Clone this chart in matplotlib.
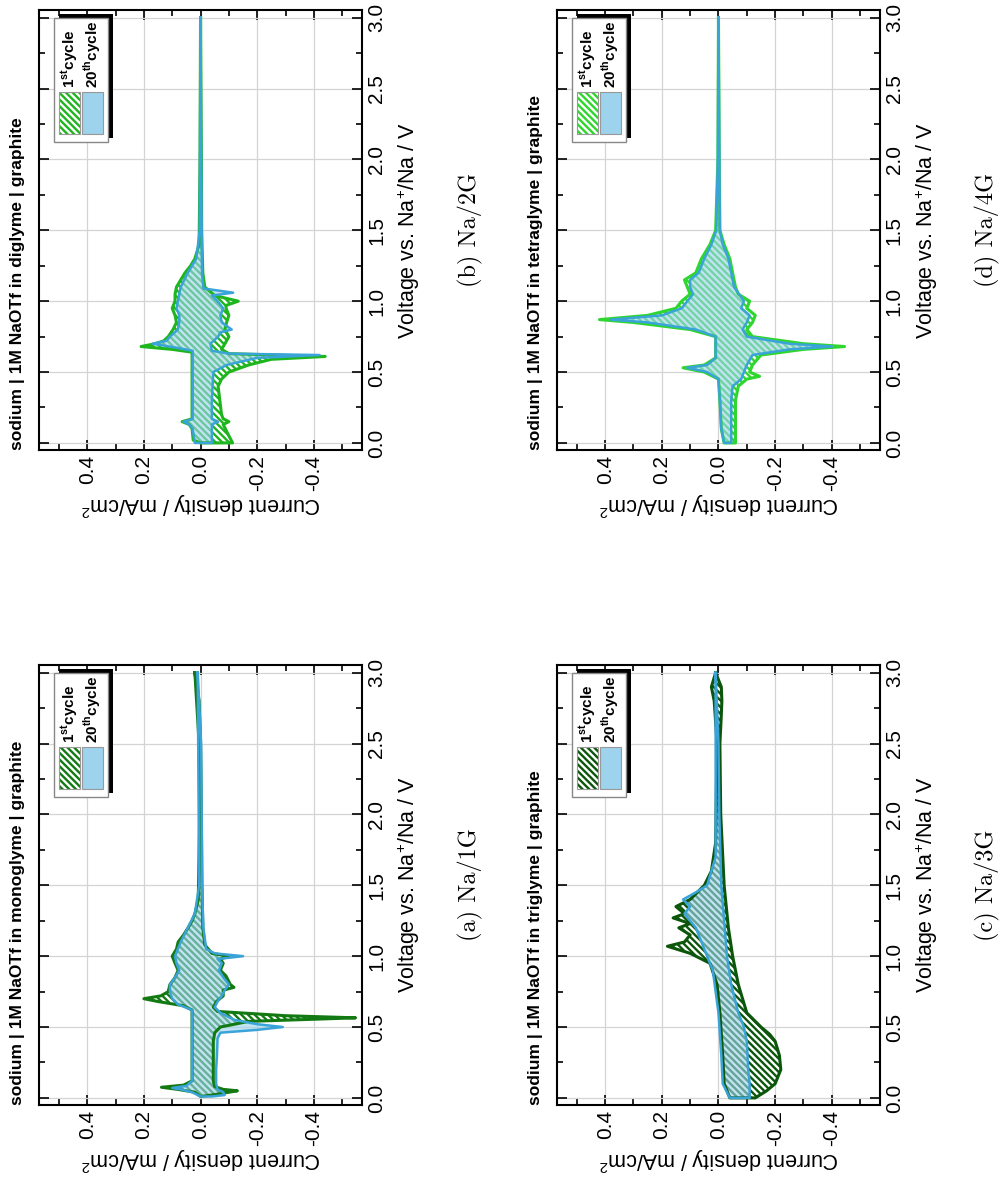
"""Cyclic voltammograms of Na/graphite cells in glyme electrolytes (page rotated 90 deg)."""
import matplotlib
matplotlib.use("Agg")
import matplotlib.pyplot as plt
from matplotlib.patches import Rectangle
from matplotlib.ticker import MultipleLocator

plt.rcParams["font.family"] = ["Liberation Sans", "DejaVu Sans"]
plt.rcParams["axes.unicode_minus"] = False
plt.rcParams["mathtext.fontset"] = "custom"
plt.rcParams["mathtext.rm"] = "Liberation Sans"
plt.rcParams["mathtext.bf"] = "Liberation Sans:bold"
plt.rcParams["hatch.linewidth"] = 1.7

C_BLUE = "#3aa3d8"
C_BLUE_FILL = "#9dd3ec"
C_GRID = "#d4d4d4"
HATCH = "\\\\\\\\\\"

# ---- data: closed CV loops, voltage (V) and current density (mA/cm2) ----
# cathodic scan 3.0 -> 0.0 V, then anodic scan 0.0 -> 3.0 V
V_A1 = [3.00, 2.80, 2.50, 2.00, 1.50, 1.20, 1.08, 1.02, 1.00, 0.98, 0.95, 0.90, 0.86, 0.80, 0.78,
        0.76, 0.72, 0.68, 0.64, 0.61, 0.58, 0.565, 0.555, 0.54, 0.50, 0.46, 0.40, 0.30, 0.20, 0.12,
        0.08, 0.06, 0.05, 0.04, 0.02,
        0.01, 0.04, 0.06, 0.075, 0.09, 0.12, 0.30, 0.50, 0.62, 0.65, 0.68, 0.70, 0.72, 0.75, 0.80,
        0.85, 0.90, 0.95, 1.00, 1.05, 1.10, 1.15, 1.20, 1.25, 1.30, 1.40, 2.00, 2.50, 3.00]
I_A1 = [0.020, 0.005, 0.000, -0.003, -0.005, -0.008, -0.015, -0.040, -0.100, -0.070, -0.080,
        -0.070, -0.090, -0.105, -0.118, -0.080, -0.080, -0.056, -0.045, -0.060, -0.300, -0.547,
        -0.400, -0.170, -0.070, -0.050, -0.045, -0.045, -0.045, -0.045, -0.050, -0.080, -0.130,
        -0.100, -0.040,
        0.000, 0.020, 0.080, 0.138, 0.060, 0.030, 0.030, 0.030, 0.030, 0.060, 0.150, 0.200, 0.140,
        0.114, 0.108, 0.090, 0.079, 0.090, 0.100, 0.085, 0.079, 0.060, 0.044, 0.030, 0.020, 0.008,
        0.003, 0.005, 0.020]
V_A20 = [3.00, 2.50, 2.00, 1.50, 1.20, 1.05, 1.02, 1.00, 0.98, 0.95, 0.90, 0.85, 0.80, 0.76, 0.72,
         0.68, 0.64, 0.60, 0.55, 0.52, 0.50, 0.48, 0.46, 0.42, 0.30, 0.20, 0.10, 0.06, 0.04, 0.02,
         0.01,
         0.01, 0.04, 0.06, 0.07, 0.085, 0.12, 0.40, 0.62, 0.66, 0.70, 0.75, 0.80, 0.85, 0.90, 0.95,
         1.00, 1.05, 1.10, 1.20, 1.30, 1.50, 3.00]
I_A20 = [0.010, -0.002, -0.004, -0.005, -0.010, -0.020, -0.050, -0.150, -0.060, -0.075, -0.065,
         -0.080, -0.100, -0.085, -0.075, -0.060, -0.050, -0.070, -0.120, -0.200, -0.290, -0.200,
         -0.070, -0.060, -0.058, -0.055, -0.055, -0.060, -0.080, -0.085, -0.040,
         0.000, 0.030, 0.070, 0.100, 0.050, 0.030, 0.030, 0.030, 0.080, 0.100, 0.108, 0.108, 0.090,
         0.075, 0.085, 0.090, 0.080, 0.070, 0.045, 0.020, 0.005, 0.010]

V_B1 = [3.00, 2.00, 1.50, 1.20, 1.10, 1.04, 1.00, 0.97, 0.95, 0.90, 0.85, 0.80, 0.75, 0.70, 0.66,
        0.63, 0.61, 0.59, 0.55, 0.50, 0.45, 0.40, 0.30, 0.20, 0.17, 0.15, 0.13, 0.05, 0.00,
        0.00, 0.02, 0.10, 0.13, 0.15, 0.17, 0.40, 0.64, 0.66, 0.68, 0.70, 0.72, 0.75, 0.80, 0.85,
        0.90, 0.95, 1.00, 1.05, 1.10, 1.15, 1.20, 1.25, 1.30, 1.40, 2.00, 3.00]
I_B1 = [0.000, -0.003, -0.004, -0.008, -0.015, -0.050, -0.133, -0.090, -0.090, -0.100, -0.092,
        -0.086, -0.100, -0.086, -0.074, -0.100, -0.440, -0.250, -0.170, -0.100, -0.074, -0.062,
        -0.068, -0.074, -0.080, -0.100, -0.080, -0.100, -0.113,
        0.000, 0.026, 0.030, 0.040, 0.065, 0.030, 0.030, 0.030, 0.100, 0.210, 0.160, 0.130, 0.114,
        0.097, 0.085, 0.090, 0.100, 0.090, 0.090, 0.085, 0.070, 0.055, 0.035, 0.020, 0.005, 0.002,
        0.000]
V_B20 = [3.00, 2.00, 1.20, 1.09, 1.06, 1.04, 1.00, 0.95, 0.90, 0.85, 0.80, 0.78, 0.75, 0.70, 0.65,
         0.63, 0.62, 0.60, 0.55, 0.50, 0.30, 0.17, 0.15, 0.13, 0.00,
         0.00, 0.10, 0.13, 0.15, 0.17, 0.50, 0.65, 0.67, 0.70, 0.72, 0.75, 0.80, 0.85, 0.90, 0.95,
         1.00, 1.05, 1.10, 1.20, 1.30, 1.50, 3.00]
I_B20 = [0.000, -0.002, -0.005, -0.010, -0.115, -0.040, -0.060, -0.080, -0.070, -0.075, -0.110,
         -0.070, -0.062, -0.035, -0.040, -0.100, -0.420, -0.200, -0.092, -0.045, -0.040, -0.040,
         -0.062, -0.040, -0.040,
         0.020, 0.028, 0.040, 0.060, 0.028, 0.028, 0.028, 0.080, 0.170, 0.120, 0.108, 0.080, 0.075,
         0.075, 0.085, 0.080, 0.075, 0.070, 0.045, 0.015, 0.003, 0.000]

V_C1 = [3.00, 2.90, 2.80, 2.70, 2.50, 2.00, 1.50, 1.20, 1.00, 0.80, 0.60, 0.50, 0.45, 0.40, 0.30,
        0.20, 0.10, 0.05, 0.00,
        0.00, 0.05, 0.10, 0.30, 0.60, 0.80, 0.95, 1.02, 1.07, 1.10, 1.15, 1.20, 1.23, 1.27, 1.30,
        1.35, 1.40, 1.50, 1.60, 1.80, 2.50, 2.80, 2.90, 3.00]
I_C1 = [0.010, -0.010, -0.012, -0.010, -0.005, -0.008, -0.020, -0.035, -0.050, -0.070, -0.100,
        -0.150, -0.180, -0.200, -0.215, -0.220, -0.200, -0.170, -0.130,
        -0.040, -0.030, -0.020, -0.015, -0.005, 0.005, 0.030, 0.100, 0.180, 0.120, 0.100, 0.140,
        0.100, 0.160, 0.120, 0.150, 0.100, 0.050, 0.025, 0.010, 0.005, 0.015, 0.025, 0.010]
V_C20 = [3.00, 2.50, 2.00, 1.50, 1.00, 0.80, 0.60, 0.50, 0.40, 0.20, 0.10, 0.00,
         0.00, 0.10, 0.30, 0.60, 0.90, 1.10, 1.20, 1.30, 1.35, 1.40, 1.45, 1.50, 1.70, 3.00]
I_C20 = [0.010, 0.000, -0.003, -0.010, -0.030, -0.045, -0.070, -0.090, -0.100, -0.105, -0.110,
         -0.110,
         -0.040, -0.015, -0.010, 0.000, 0.020, 0.060, 0.080, 0.120, 0.100, 0.125, 0.080, 0.040,
         0.010, 0.010]

V_D1 = [3.00, 2.00, 1.50, 1.40, 1.30, 1.20, 1.10, 1.05, 1.00, 0.95, 0.90, 0.85, 0.80, 0.75, 0.70,
        0.68, 0.66, 0.62, 0.55, 0.50, 0.47, 0.45, 0.40, 0.30, 0.10, 0.00,
        0.00, 0.10, 0.30, 0.45, 0.50, 0.53, 0.55, 0.60, 0.75, 0.80, 0.85, 0.87, 0.90, 0.95, 1.00,
        1.05, 1.10, 1.15, 1.20, 1.30, 1.40, 1.50, 2.00, 3.00]
I_D1 = [0.000, -0.003, -0.005, -0.020, -0.040, -0.050, -0.060, -0.070, -0.110, -0.100, -0.130,
        -0.120, -0.100, -0.120, -0.300, -0.445, -0.300, -0.150, -0.120, -0.110, -0.145, -0.100,
        -0.070, -0.060, -0.060, -0.060,
        -0.020, -0.010, -0.005, 0.000, 0.050, 0.125, 0.050, 0.010, 0.010, 0.100, 0.300, 0.420,
        0.250, 0.150, 0.130, 0.100, 0.110, 0.120, 0.080, 0.060, 0.030, 0.010, 0.002, 0.000]
V_D20 = [3.00, 2.00, 1.50, 1.40, 1.30, 1.20, 1.10, 1.00, 0.95, 0.90, 0.85, 0.80, 0.75, 0.70, 0.68,
         0.66, 0.62, 0.55, 0.50, 0.45, 0.40, 0.30, 0.10, 0.00,
         0.00, 0.10, 0.30, 0.45, 0.50, 0.53, 0.55, 0.60, 0.75, 0.80, 0.85, 0.87, 0.90, 0.95, 1.00,
         1.05, 1.10, 1.15, 1.20, 1.30, 1.40, 1.50, 2.00, 3.00]
I_D20 = [0.000, -0.003, -0.005, -0.015, -0.035, -0.045, -0.055, -0.090, -0.080, -0.110, -0.100,
         -0.085, -0.100, -0.250, -0.400, -0.250, -0.120, -0.100, -0.090, -0.080, -0.050, -0.045,
         -0.045, -0.045,
         -0.020, -0.010, -0.005, 0.000, 0.040, 0.110, 0.040, 0.010, 0.010, 0.080, 0.250, 0.380,
         0.200, 0.130, 0.110, 0.090, 0.100, 0.100, 0.070, 0.050, 0.025, 0.008, 0.002, 0.000]

PANELS = [
    # (axes rect, V1, I1, V20, I20, green, solvent, caption)
    ([0.039, 0.0691, 0.3227, 0.3707], V_A1, I_A1, V_A20, I_A20, "#137a13", "monoglyme", "(a) Na/1G"),
    ([0.039, 0.6209, 0.3227, 0.3707], V_B1, I_B1, V_B20, I_B20, "#1fb51f", "diglyme", "(b) Na/2G"),
    ([0.5564, 0.0691, 0.3227, 0.3707], V_C1, I_C1, V_C20, I_C20, "#0b560b", "triglyme", "(c) Na/3G"),
    ([0.5564, 0.6209, 0.3227, 0.3707], V_D1, I_D1, V_D20, I_D20, "#2ed62e", "tetraglyme", "(d) Na/4G"),
]


def draw_panel(fig, rect, v1, i1, v20, i20, green, solvent, caption):
    ax = fig.add_axes(rect)
    ax.set_xlim(0.57, -0.57)
    ax.set_ylim(-0.05, 3.055)

    # 1st cycle: hatched, 20th cycle: light blue on top
    ax.fill(i1, v1, facecolor="white", edgecolor=green, hatch=HATCH, lw=0, zorder=2)
    ax.fill(i20, v20, facecolor=C_BLUE_FILL, alpha=0.62, lw=0, zorder=3)
    ax.plot(i1 + i1[:1], v1 + v1[:1], color=green, lw=2.2, zorder=4)
    ax.plot(i20 + i20[:1], v20 + v20[:1], color=C_BLUE, lw=1.8, zorder=5)

    ax.xaxis.set_major_locator(MultipleLocator(0.2))
    ax.xaxis.set_minor_locator(MultipleLocator(0.1))
    ax.yaxis.set_major_locator(MultipleLocator(0.5))
    ax.yaxis.set_minor_locator(MultipleLocator(0.25))
    ax.xaxis.set_major_formatter(matplotlib.ticker.FuncFormatter(lambda v, _: f"{v:.1f}"))
    ax.yaxis.set_major_formatter(matplotlib.ticker.FuncFormatter(lambda v, _: f"{v:.1f}"))
    ax.tick_params(which="both", direction="in", top=True, bottom=True, left=True, right=True,
                   labelleft=False, labelright=True, labelsize=15, width=1.2)
    ax.tick_params(which="major", length=7)
    ax.tick_params(which="minor", length=4)
    for lab in ax.get_xticklabels():
        lab.set_rotation(90)
    for lab in ax.get_yticklabels():
        lab.set_rotation(90)
        lab.set_va("center")
    ax.grid(True, which="major", color=C_GRID, lw=0.9, zorder=0)
    ax.set_axisbelow(True)
    for sp in ax.spines.values():
        sp.set_linewidth(1.5)

    ax.text(0.5, -0.122, "Current density / mA/cm$^{2}$", rotation=180, fontsize=15.5,
            ha="center", va="center", transform=ax.transAxes)
    ax.text(1.145, 0.5, "Voltage vs. Na$^{+}$/Na / V", rotation=90, fontsize=15.5,
            ha="center", va="center", transform=ax.transAxes)
    ax.text(1.334, 0.5, caption, rotation=90, fontsize=17.5, fontname="cmr10",
            ha="center", va="center", transform=ax.transAxes)
    ax.text(-0.066, 0.0, f"sodium | 1M NaOTf in {solvent} | graphite", rotation=90,
            fontsize=12.5, fontweight="bold", ha="center", va="bottom", transform=ax.transAxes)

    # legend with drop shadow
    ax.add_patch(Rectangle((0.062, 0.709), 0.167, 0.282, facecolor="black", lw=0,
                           transform=ax.transAxes, zorder=6))
    ax.add_patch(Rectangle((0.046, 0.700), 0.168, 0.282, facecolor="white", edgecolor="#888888",
                           lw=1.0, transform=ax.transAxes, zorder=7))
    ax.add_patch(Rectangle((0.062, 0.718), 0.065, 0.096, facecolor="white", edgecolor=green,
                           hatch=HATCH, lw=0, transform=ax.transAxes, zorder=8))
    ax.add_patch(Rectangle((0.062, 0.718), 0.065, 0.096, facecolor="none", edgecolor="#999999",
                           lw=0.8, transform=ax.transAxes, zorder=9))
    ax.add_patch(Rectangle((0.133, 0.718), 0.065, 0.096, facecolor=C_BLUE_FILL, edgecolor="#999999",
                           lw=0.8, transform=ax.transAxes, zorder=8))
    ax.text(0.096, 0.822, r"1$^{\mathbf{st}}$cycle", rotation=90, fontsize=11, fontweight="bold",
            ha="center", va="bottom", transform=ax.transAxes, zorder=9)
    ax.text(0.166, 0.822, r"20$^{\mathbf{th}}$cycle", rotation=90, fontsize=11, fontweight="bold",
            ha="center", va="bottom", transform=ax.transAxes, zorder=9)
    return ax


fig = plt.figure(figsize=(10.01, 11.87), dpi=100)
for p in PANELS:
    draw_panel(fig, *p)

fig.savefig("out.png", dpi=100, facecolor="white")
